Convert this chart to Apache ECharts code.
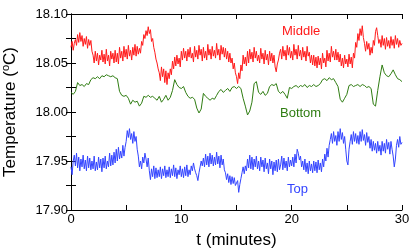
<!DOCTYPE html>
<html>
<head>
<meta charset="utf-8">
<script src="https://cdn.jsdelivr.net/npm/echarts@6/dist/echarts.min.js"></script>
<style>html,body{margin:0;padding:0;background:#fff}#c{width:415px;height:250px}</style>
</head>
<body>
<div id="c"></div>
<script>
// sampling steps of the traces, minutes
var MIDDLE_STEP = 0.1;
var TOP_STEP = 0.1;
var BOTTOM_STEP = 0.2;
var xTicks = [0, 10, 20, 30];
var yTicks = ['17.90', '17.95', '18.00', '18.05', '18.10'];

var middle = [
18.066,18.072,18.063,18.070,18.074,18.068,18.079,18.071,18.081,18.072,
18.078,18.067,18.075,18.069,18.077,18.065,18.074,18.068,18.073,18.062,
18.058,18.050,18.062,18.052,18.060,18.048,18.058,18.053,18.063,18.051,
18.059,18.049,18.064,18.052,18.058,18.047,18.062,18.054,18.060,18.050,
18.063,18.051,18.060,18.049,18.066,18.055,18.062,18.052,18.067,18.056,
18.064,18.054,18.068,18.057,18.063,18.053,18.066,18.058,18.069,18.057,
18.067,18.059,18.065,18.060,18.072,18.068,18.079,18.075,18.083,18.078,
18.087,18.080,18.084,18.072,18.075,18.066,18.061,18.054,18.050,18.044,
18.040,18.032,18.046,18.036,18.044,18.030,18.042,18.028,18.040,18.034,
18.044,18.038,18.052,18.044,18.056,18.047,18.058,18.049,18.055,18.046,
18.062,18.053,18.065,18.055,18.062,18.052,18.064,18.056,18.066,18.055,
18.060,18.051,18.067,18.056,18.063,18.054,18.068,18.058,18.064,18.052,
18.066,18.055,18.062,18.053,18.069,18.058,18.064,18.054,18.067,18.057,
18.063,18.055,18.070,18.058,18.064,18.053,18.068,18.059,18.066,18.056,
18.065,18.054,18.062,18.051,18.060,18.050,18.055,18.044,18.050,18.040,
18.036,18.029,18.040,18.034,18.048,18.042,18.058,18.049,18.056,18.047,
18.062,18.050,18.064,18.054,18.061,18.051,18.066,18.055,18.062,18.052,
18.058,18.050,18.065,18.054,18.060,18.049,18.063,18.053,18.059,18.048,
18.062,18.052,18.060,18.050,18.058,18.046,18.041,18.049,18.053,18.060,
18.064,18.054,18.067,18.057,18.063,18.053,18.068,18.058,18.066,18.055,
18.062,18.053,18.069,18.058,18.064,18.054,18.068,18.057,18.063,18.053,
18.066,18.056,18.062,18.052,18.067,18.057,18.061,18.050,18.058,18.048,
18.058,18.047,18.056,18.045,18.057,18.048,18.055,18.044,18.060,18.050,
18.055,18.046,18.063,18.052,18.060,18.051,18.067,18.056,18.062,18.053,
18.064,18.053,18.061,18.051,18.059,18.047,18.055,18.045,18.058,18.049,
18.054,18.046,18.059,18.049,18.056,18.045,18.060,18.055,18.071,18.066,
18.080,18.073,18.085,18.078,18.088,18.076,18.070,18.062,18.072,18.064,
18.070,18.058,18.066,18.060,18.073,18.068,18.082,18.086,18.078,18.070,
18.074,18.066,18.078,18.068,18.075,18.064,18.076,18.067,18.073,18.065,
18.077,18.068,18.074,18.065,18.078,18.069,18.075,18.066,18.073,18.068,
18.070];

var bottom = [
18.020,18.018,18.021,18.030,18.027,
18.028,18.026,18.029,18.028,18.033,
18.035,18.034,18.036,18.034,18.037,
18.036,18.038,18.037,18.036,18.037,
18.035,18.034,18.021,18.017,18.016,
18.017,18.014,18.008,18.012,18.010,
18.011,18.006,18.009,18.016,18.015,
18.017,18.015,18.016,18.014,18.012,
18.016,18.010,18.013,18.017,18.012,
18.015,18.022,18.033,18.028,18.025,
18.024,18.026,18.020,18.016,18.014,
18.015,18.013,18.004,17.999,18.003,
18.019,18.016,18.014,18.012,18.014,
18.013,18.017,18.021,18.023,18.020,
18.022,18.024,18.021,18.025,18.026,
18.024,18.026,18.024,18.014,18.006,
17.997,18.001,18.010,18.029,18.031,
18.020,18.018,18.021,18.017,18.019,
18.026,18.028,18.027,18.029,18.021,
18.019,18.021,18.018,18.014,18.025,
18.024,18.026,18.027,18.025,18.027,
18.026,18.028,18.025,18.027,18.026,
18.028,18.026,18.027,18.029,18.033,
18.034,18.032,18.035,18.033,18.034,
18.030,18.026,18.013,18.010,18.014,
18.018,18.027,18.028,18.026,18.027,
18.028,18.026,18.028,18.027,18.025,
18.026,18.024,18.008,18.006,18.022,
18.036,18.048,18.040,18.037,18.036,
18.039,18.043,18.038,18.034,18.033,
18.031];

var top_ = [
17.944,17.936,17.950,17.956,17.945,17.958,17.943,17.954,17.940,17.952,
17.944,17.956,17.942,17.951,17.940,17.955,17.943,17.953,17.941,17.950,
17.942,17.955,17.940,17.949,17.941,17.954,17.943,17.952,17.939,17.953,
17.943,17.955,17.942,17.950,17.944,17.958,17.945,17.956,17.946,17.959,
17.948,17.962,17.950,17.964,17.952,17.960,17.953,17.966,17.955,17.964,
17.970,17.981,17.974,17.983,17.972,17.978,17.968,17.980,17.970,17.975,
17.962,17.955,17.944,17.950,17.942,17.954,17.948,17.958,17.952,17.944,
17.953,17.940,17.931,17.942,17.934,17.945,17.932,17.943,17.933,17.941,
17.934,17.944,17.932,17.942,17.935,17.945,17.933,17.941,17.934,17.944,
17.933,17.942,17.935,17.946,17.934,17.943,17.932,17.941,17.936,17.945,
17.934,17.942,17.933,17.944,17.935,17.946,17.934,17.941,17.936,17.945,
17.940,17.948,17.942,17.938,17.935,17.930,17.938,17.944,17.950,17.945,
17.953,17.944,17.957,17.946,17.955,17.944,17.958,17.947,17.956,17.945,
17.954,17.946,17.959,17.947,17.955,17.943,17.956,17.946,17.952,17.941,
17.938,17.931,17.937,17.928,17.935,17.926,17.934,17.927,17.933,17.925,
17.924,17.930,17.918,17.926,17.932,17.938,17.944,17.937,17.945,17.940,
17.952,17.943,17.956,17.942,17.954,17.941,17.952,17.944,17.955,17.942,
17.950,17.940,17.954,17.944,17.951,17.939,17.953,17.942,17.948,17.937,
17.952,17.942,17.950,17.936,17.949,17.940,17.951,17.939,17.952,17.941,
17.946,17.955,17.941,17.953,17.943,17.950,17.940,17.954,17.944,17.951,
17.945,17.954,17.944,17.957,17.948,17.962,17.958,17.951,17.955,17.944,
17.950,17.941,17.952,17.939,17.948,17.937,17.950,17.940,17.947,17.938,
17.950,17.940,17.949,17.938,17.951,17.941,17.948,17.939,17.952,17.944,
17.957,17.950,17.963,17.954,17.966,17.972,17.978,17.968,17.980,17.970,
17.976,17.966,17.980,17.970,17.983,17.972,17.979,17.968,17.975,17.962,
17.950,17.946,17.962,17.970,17.977,17.967,17.980,17.970,17.978,17.968,
17.976,17.967,17.980,17.970,17.982,17.971,17.977,17.966,17.979,17.969,
17.975,17.963,17.972,17.960,17.970,17.961,17.968,17.958,17.970,17.960,
17.966,17.956,17.970,17.960,17.968,17.958,17.972,17.962,17.969,17.957,
17.970,17.962,17.955,17.944,17.952,17.966,17.972,17.964,17.975,17.967,
17.969];

function pairs(arr, step) {
  return arr.map(function (v, i) { return [+(i * step).toFixed(2), v]; });
}

var FONT = 'Liberation Sans, Arial, Helvetica, sans-serif';
var chart = echarts.init(document.getElementById('c'), null, {renderer: 'canvas'});

var axisLine = {show: true, lineStyle: {color: '#000', width: 1}};
var axisTick = {show: true, inside: true, length: 5, lineStyle: {color: '#000', width: 1}};

chart.setOption({
  animation: false,
  backgroundColor: '#fff',
  grid: {left: 71, right: 13, top: 14, bottom: 40, containLabel: false, outerBoundsMode: 'none'},
  xAxis: [{
    type: 'value', min: 0, max: 30, interval: 5,
    axisLine: axisLine, axisTick: axisTick, splitLine: {show: false},
    axisLabel: {
      color: '#000', fontSize: 13, fontFamily: FONT, margin: 3,
      formatter: function (v) { return xTicks.indexOf(v) >= 0 ? String(v) : ''; }
    },
    name: 't (minutes)', nameLocation: 'middle', nameGap: 22,
    nameTextStyle: {color: '#000', fontSize: 17, fontFamily: FONT}
  }, {
    type: 'value', min: 0, max: 30, interval: 5, position: 'top',
    axisLine: axisLine, axisTick: axisTick, splitLine: {show: false},
    axisLabel: {show: false}
  }],
  yAxis: [{
    type: 'value', min: 17.9, max: 18.1, interval: 0.025,
    axisLine: axisLine, axisTick: axisTick, splitLine: {show: false},
    axisLabel: {
      color: '#000', fontSize: 13, fontFamily: FONT, margin: 3,
      formatter: function (v) { var s = v.toFixed(2); return yTicks.indexOf(s) >= 0 && Math.abs(v * 1000 - Math.round(v * 20) * 50) < 1e-6 ? s : ''; }
    },
    name: 'Temperature ({sup|o}C)', nameLocation: 'middle', nameGap: 51,
    nameTextStyle: {
      color: '#000', fontSize: 17, fontFamily: FONT,
      rich: {sup: {fontSize: 11, fontFamily: FONT, color: '#000', verticalAlign: 'top', padding: [0, 0, 9, 0]}}
    }
  }, {
    type: 'value', min: 17.9, max: 18.1, interval: 0.025, position: 'right',
    axisLine: axisLine, axisTick: axisTick, splitLine: {show: false},
    axisLabel: {show: false}
  }],
  series: [
    {name: 'Middle', type: 'line', data: pairs(middle, MIDDLE_STEP), showSymbol: false, lineStyle: {color: '#ff1a1a', width: 1}, itemStyle: {color: '#ff1a1a'}},
    {name: 'Bottom', type: 'line', data: pairs(bottom, BOTTOM_STEP), showSymbol: false, lineStyle: {color: '#2f7d12', width: 1}, itemStyle: {color: '#2f7d12'}},
    {name: 'Top', type: 'line', data: pairs(top_, TOP_STEP), showSymbol: false, lineStyle: {color: '#3344ff', width: 1}, itemStyle: {color: '#3344ff'}}
  ],
  graphic: [
    {type: 'text', left: 282, top: 25, style: {text: 'Middle', fill: '#ff1a1a', font: '13px ' + FONT}},
    {type: 'text', left: 280, top: 107, style: {text: 'Bottom', fill: '#2f7d12', font: '13px ' + FONT}},
    {type: 'text', left: 287, top: 183, style: {text: 'Top', fill: '#3344ff', font: '13px ' + FONT}}
  ]
});
</script>
</body>
</html>
